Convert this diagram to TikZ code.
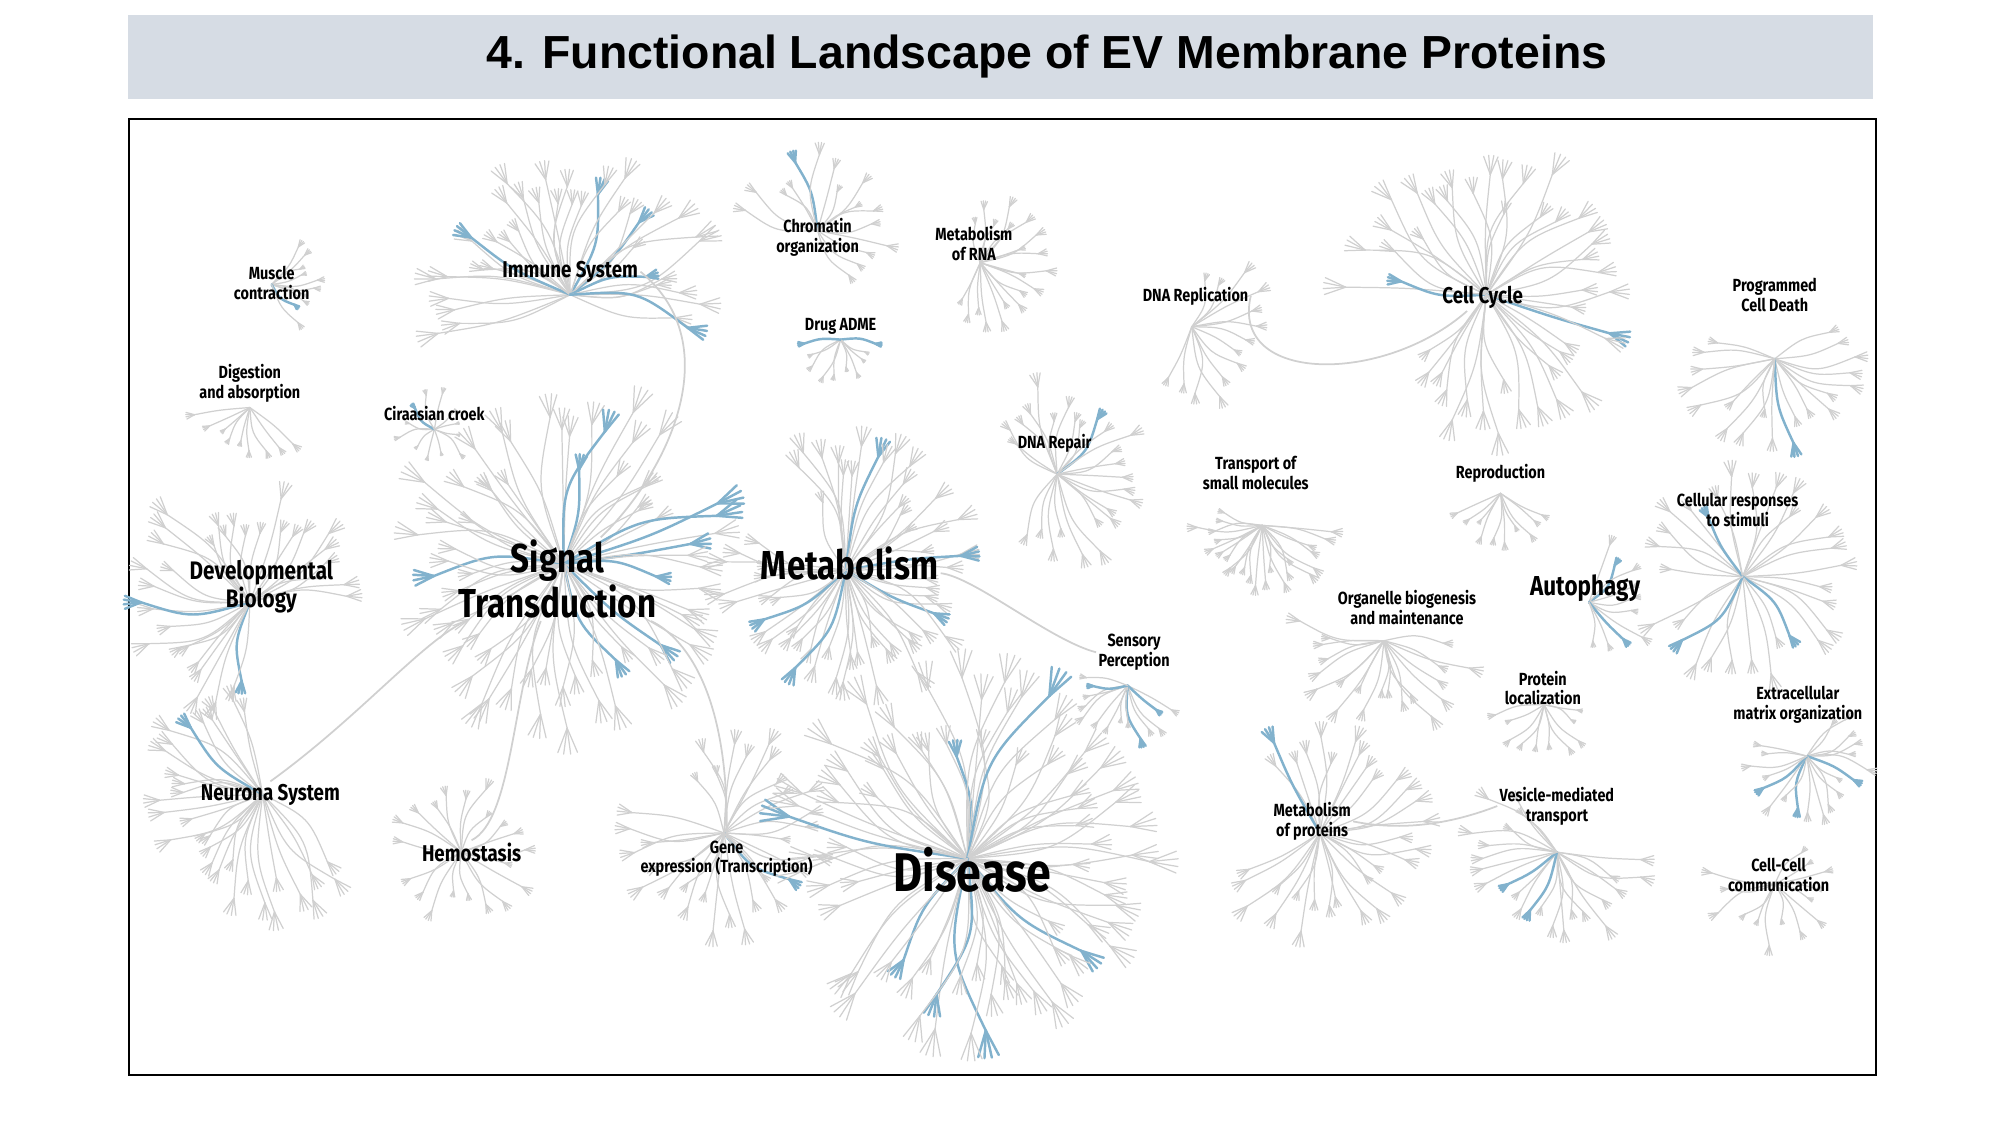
\documentclass[tikz,border=0pt]{standalone}
\usepackage{fontspec}
\setmainfont{Liberation Sans}
\newfontfamily\labfont{Fira Sans}[FakeStretch=0.82]
\usetikzlibrary{positioning}
\definecolor{barbg}{RGB}{214,220,228}
\definecolor{twig}{RGB}{208,208,208}
\definecolor{twigblue}{RGB}{130,178,205}
\tikzset{
  branch/.style={draw=twig, line width=0.35pt, line cap=round},
  hot/.style={draw=twigblue, line width=0.7pt, line cap=round},
  link/.style={draw=twig, line width=0.5pt},
  lab/.style={font=\labfont\bfseries\fontsize{5}{5.6}\selectfont, align=center, inner sep=0.5pt},
  midlab/.style={lab, font=\labfont\bfseries\fontsize{6.5}{7}\selectfont},
}
% #1,#2 centre, #3 radius, #4 count, #5..#6 angle range
\newcommand{\burst}[6]{%
  \foreach \i in {1,...,#4}{
    \pgfmathsetmacro\aa{#5+(#6-#5)/#4*(\i-0.5)+6*rnd-3}
    \pgfmathsetmacro\ll{#3*(0.55+0.45*rnd)}
    \pgfmathsetmacro\bb{\aa+40*rnd-20}
    \pgfmathsetmacro\ex{#1+\ll*cos(\aa)}
    \pgfmathsetmacro\ey{#2+\ll*sin(\aa)}
    \pgfmathsetmacro\cx{#1+0.55*\ll*cos(\bb)}
    \pgfmathsetmacro\cy{#2+0.55*\ll*sin(\bb)}
    \pgfmathparse{rnd<0.07 ? 1 : 0}
    \ifnum\pgfmathresult=1 \def\sty{hot}\else\def\sty{branch}\fi
    \draw[\sty] (#1,#2) .. controls (\cx,\cy) .. (\ex,\ey);
    \foreach \k in {-1,-0.3,0.4,1}{
      \pgfmathsetmacro\tx{\ex+0.16*\ll*cos(\aa+22*\k)}
      \pgfmathsetmacro\ty{\ey+0.16*\ll*sin(\aa+22*\k)}
      \draw[\sty] (\ex,\ey) -- (\tx,\ty);
    }
  }}
\begin{document}
\begin{tikzpicture}[x=0.12814mm, y=-0.12814mm]
\pgfmathsetseed{11}
\useasboundingbox (0,0) rectangle (1560,878);
% title bar
\fill[barbg] (100,12) rectangle (1462,77);
\node[font=\bfseries\fontsize{13.2}{15}\selectfont] (title) at (817,44) {4. Functional Landscape of EV Membrane Proteins};
\draw[line width=0.6pt] (101,93) rectangle (1464,839);

% clusters
\burst{445}{230}{110}{40}{-200}{20}
\burst{212}{222}{40}{10}{-60}{60}
\burst{195}{318}{45}{9}{30}{180}
\burst{339}{335}{30}{12}{0}{360}
\burst{195}{470}{95}{34}{90}{360}
\burst{440}{440}{130}{70}{-100}{250}
\burst{660}{445}{100}{60}{-120}{200}
\burst{638}{180}{60}{16}{-170}{60}
\burst{765}{205}{55}{20}{-100}{120}
\burst{656}{265}{35}{10}{0}{180}
\burst{930}{255}{60}{14}{-80}{120}
\burst{1160}{230}{110}{45}{-180}{140}
\burst{1385}{280}{70}{20}{-30}{200}
\burst{825}{370}{70}{26}{-150}{120}
\burst{985}{410}{55}{24}{0}{200}
\burst{1171}{385}{40}{10}{20}{160}
\burst{1360}{450}{80}{30}{-180}{160}
\burst{1240}{470}{50}{10}{-80}{90}
\burst{1080}{500}{70}{20}{0}{200}
\burst{880}{535}{45}{14}{20}{200}
\burst{1205}{550}{40}{10}{0}{180}
\burst{1410}{590}{50}{20}{-60}{200}
\burst{205}{620}{95}{32}{40}{260}
\burst{360}{665}{55}{20}{-180}{160}
\burst{565}{650}{80}{32}{-120}{200}
\burst{755}{670}{145}{80}{-200}{140}
\burst{1030}{650}{85}{32}{-130}{160}
\burst{1215}{665}{70}{24}{0}{240}
\burst{1385}{690}{50}{14}{-60}{200}

% labels
\node[lab] (muscle) at (212,221) {Muscle\\contraction};
\node[lab] (digest) at (195,299) {Digestion\\and absorption};
\node[lab] (circ) at (339,323) {Ciraasian croek};
\node[midlab] (immune) at (445,212) {Immune System};
\node[lab] (chrom) at (638,185) {Chromatin\\organization};
\node[lab] (rna) at (760,190) {Metabolism\\of RNA};
\node[lab] (drug) at (656,255) {Drug ADME};
\node[lab] (dnarep) at (933,231) {DNA Replication};
\node[midlab] (cycle) at (1157,232) {Cell Cycle};
\node[lab] (death) at (1385,230) {Programmed\\Cell Death};
\node[lab] (repair) at (823,346) {DNA Repair};
\node[lab] (transp) at (980,369) {Transport of\\small molecules};
\node[lab] (repro) at (1171,369) {Reproduction};
\node[lab] (resp) at (1356,398) {Cellular responses\\to stimuli};
\node[midlab, font=\labfont\bfseries\fontsize{7.2}{7.8}\selectfont] (developmental) at (204,458) {Developmental\\Biology};
\node[lab, font=\labfont\bfseries\fontsize{11.5}{10.5}\selectfont] (signal) at (435,452) {Signal\\Transduction};
\node[lab, font=\labfont\bfseries\fontsize{11.5}{13}\selectfont] (metab) at (663,440) {Metabolism};
\node[midlab, font=\labfont\bfseries\fontsize{7.8}{9}\selectfont] (autoph) at (1237,459) {Autophagy};
\node[lab] (organ) at (1098,474) {Organelle biogenesis\\and maintenance};
\node[lab] (sensory) at (885,509) {Sensory\\Perception};
\node[lab] (protloc) at (1204,537) {Protein\\localization};
\node[lab] (ecm) at (1403,550) {Extracellular\\matrix organization};
\node[midlab] (neuro) at (211,620) {Neurona System};
\node[midlab] (hemo) at (368,665) {Hemostasis};
\node[lab] (geneexp) at (567,670) {Gene\\expression (Transcription)};
\node[lab, font=\labfont\bfseries\fontsize{15.5}{17}\selectfont] (disease) at (759,679) {Disease};
\node[lab] (protmet) at (1024,641) {Metabolism\\of proteins};
\node[lab] (vesicle) at (1215,629) {Vesicle-mediated\\transport};
\node[lab] (cellcell) at (1388,683) {Cell-Cell\\communication};

% long links
\draw[link] (signal) .. controls (520,370) and (570,270) .. (immune.east);
\draw[link] (signal) .. controls (520,490) and (570,520) .. (geneexp.north);
\draw[link] (signal) .. controls (400,540) and (400,640) .. (hemo.north);
\draw[link] (signal) .. controls (330,500) and (280,560) .. (neuro.north);
\draw[link] (metab) .. controls (760,450) and (820,500) .. (sensory.west);
\draw[link] (cycle) .. controls (1080,300) and (960,300) .. (dnarep.east);
\draw[link] (protmet.east) .. controls (1100,650) and (1140,640) .. (vesicle.west);
\end{tikzpicture}
\end{document}
